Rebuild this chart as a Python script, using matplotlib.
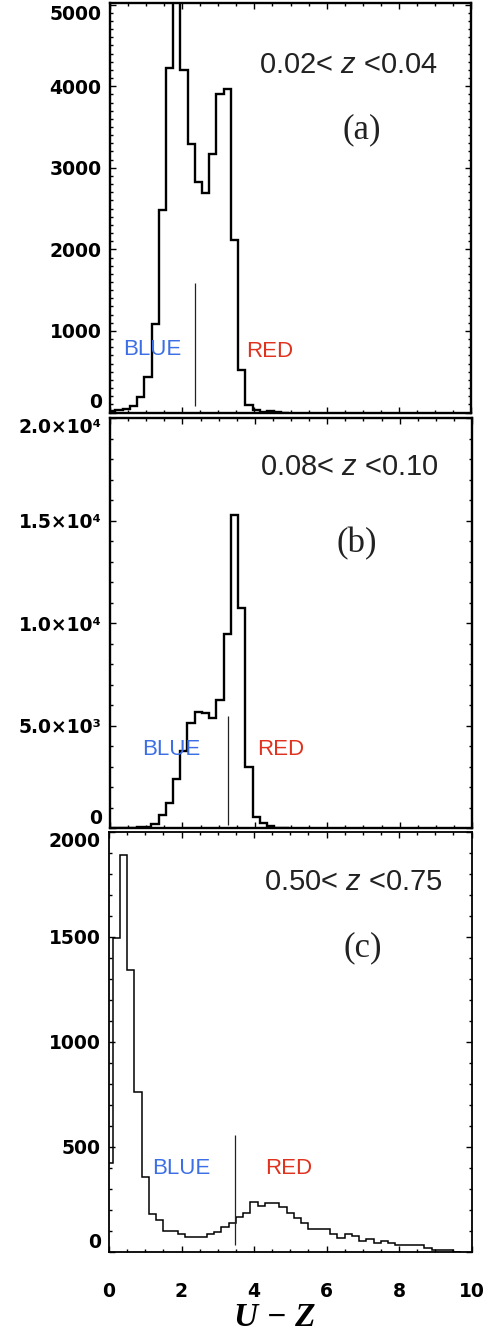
import numpy as np
import matplotlib.pyplot as plt
from matplotlib.ticker import MultipleLocator

plt.rcParams['mathtext.fontset'] = 'custom'
plt.rcParams['mathtext.it'] = 'Liberation Sans:italic'
plt.rcParams['mathtext.rm'] = 'Liberation Sans'

# U-Z histograms, bin width 0.2, first edge per panel
bin_width = 0.2

a_start = -0.05
a_counts = [20, 25, 40, 75, 190, 440, 1090, 2480, 4220, 5300,
            4200, 3290, 2820, 2690, 3170, 3910, 3970, 2110, 520, 95,
            25, 10, 20, 5, 0]

b_start = -0.06
b_counts = [0, 0, 0, 0, 30, 65, 200, 640, 1210, 2400,
            3750, 5140, 5650, 5600, 5350, 6220, 9450, 15250, 10750, 3000,
            520, 230, 90, 20, 0]

c_start = -0.10
c_counts = [420, 1493, 1888, 1340, 759, 357, 179, 151, 100, 100,
            84, 71, 71, 68, 83, 92, 119, 135, 162, 183,
            235, 219, 230, 230, 210, 183, 159, 135, 107, 107,
            107, 83, 64, 83, 72, 51, 60, 40, 48, 40,
            32, 32, 32, 32, 19, 8, 8, 8, 0]

z_ranges = ['0.02< $z$ <0.04', '0.08< $z$ <0.10', '0.50< $z$ <0.75']
panel_tags = ['(a)', '(b)', '(c)']
cut_x = [2.35, 3.27, 3.48]
cut_y = [(80, 1590), (150, 5480), (30, 555)]

b_ticklabels = ['0', '5.0×10³', '1.0×10⁴', '1.5×10⁴', '2.0×10⁴']

fig = plt.figure(figsize=(4.88, 13.35), dpi=100)
W, H = 488, 1335


def add_axes(left, top, right, bottom):
    return fig.add_axes([left / W, 1 - bottom / H, (right - left) / W, (bottom - top) / H])


ax_a = add_axes(110, 3, 471, 412.5)
ax_b = add_axes(110, 418, 472, 828)
ax_c = add_axes(109, 831.7, 471.5, 1251.5)

blue = '#3c6ee6'
red = '#e0331f'
tick_font = dict(family='DejaVu Sans', weight='bold', size=13.5)


def style(ax, lw, ymajor, yminor):
    ax.set_xlim(0, 10)
    ax.xaxis.set_major_locator(MultipleLocator(2))
    ax.xaxis.set_minor_locator(MultipleLocator(0.5))
    ax.yaxis.set_major_locator(MultipleLocator(ymajor))
    ax.yaxis.set_minor_locator(MultipleLocator(yminor))
    ax.tick_params(which='both', direction='in', top=True, right=True, width=1.0)
    ax.tick_params(which='major', length=4.5)
    ax.tick_params(which='minor', length=2.2)
    ax.tick_params(axis='y', pad=6)
    for s in ax.spines.values():
        s.set_linewidth(lw)


def edges_for(start, counts):
    return start + bin_width * np.arange(len(counts) + 1)


# panel a
ax_a.stairs(a_counts, edges_for(a_start, a_counts), color='k', lw=1.7)
ax_a.set_ylim(0, 5020)
style(ax_a, 1.7, 1000, 100)
ax_a.set_xticklabels([])
ax_a.set_yticks([0, 1000, 2000, 3000, 4000, 5000])
ax_a.set_yticklabels(['0', '1000', '2000', '3000', '4000', '5000'], **tick_font)

# panel b
ax_b.stairs(b_counts, edges_for(b_start, b_counts), color='k', lw=1.7)
ax_b.set_ylim(0, 20000)
style(ax_b, 1.7, 5000, 1000)
ax_b.set_xticklabels([])
ax_b.set_yticks([0, 5000, 10000, 15000, 20000])
ax_b.set_yticklabels(b_ticklabels, **tick_font)

# panel c
ax_c.stairs(c_counts, edges_for(c_start, c_counts), color='k', lw=1.1)
ax_c.set_ylim(0, 2000)
style(ax_c, 1.3, 500, 100)
ax_c.set_yticks([0, 500, 1000, 1500, 2000])
ax_c.set_yticklabels(['0', '500', '1000', '1500', '2000'], **tick_font)
ax_c.set_xticks([0, 2, 4, 6, 8, 10])
ax_c.set_xticklabels(['0', '2', '4', '6', '8', '10'], **tick_font)
ax_c.tick_params(axis='x', pad=22)

for ax in (ax_a, ax_b, ax_c):
    labs = ax.get_yticklabels()
    labs[0].set_va('bottom')
    labs[-1].set_va('top')

# annotations
text_pos = [(4.12, 4257), (4.13, 17630), (4.27, 1758)]
tag_pos = [(6.45, 3461), (6.27, 13865), (6.48, 1449)]
blue_pos = [(0.37, 767), (0.88, 3830), (1.18, 394)]
red_pos = [(3.78, 747), (4.06, 3830), (4.31, 394)]

for i, ax in enumerate((ax_a, ax_b, ax_c)):
    ax.vlines(cut_x[i], cut_y[i][0], cut_y[i][1], color='#222222', lw=0.9)
    ax.text(*text_pos[i], z_ranges[i], family='Liberation Sans', size=21,
            color='#222222', ha='left', va='center')
    ax.text(*tag_pos[i], panel_tags[i], family='Liberation Serif', size=25,
            color='#222222', ha='left', va='center')
    ax.text(*blue_pos[i], 'BLUE', family='Liberation Sans', size=16,
            color=blue, ha='left', va='center')
    ax.text(*red_pos[i], 'RED', family='Liberation Sans', size=16,
            color=red, ha='left', va='center')

fig.text(275 / W, 1 - 1318 / H, 'U − Z', family='Liberation Serif', style='italic',
         weight='bold', size=24, ha='center', va='center')

fig.savefig('out.png', dpi=100)
